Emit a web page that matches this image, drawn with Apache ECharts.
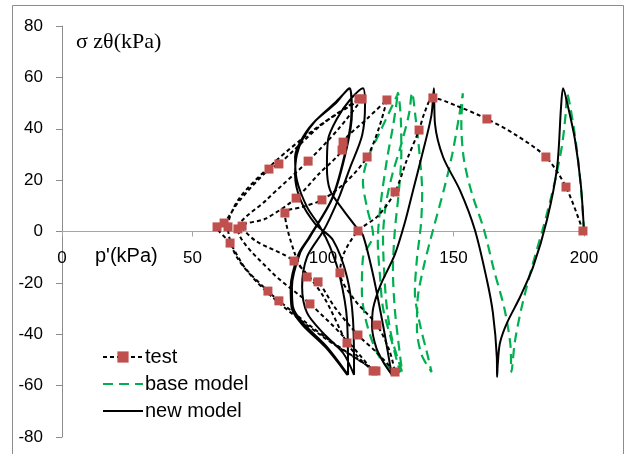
<!DOCTYPE html>
<html>
<head>
<meta charset="utf-8">
<script src="https://cdn.jsdelivr.net/npm/echarts@6/dist/echarts.min.js"></script>
<style>
  html, body { margin: 0; padding: 0; background: #fff; }
  #chart { width: 635px; height: 454px; }
</style>
</head>
<body>
<div id="chart"></div>
<script>
// Axis ticks
const xTicks = [0, 50, 100, 150, 200];
const yTicks = [-80, -60, -40, -20, 0, 20, 40, 60, 80];

// Measured stress path: [p' (kPa), σzθ (kPa), 1 = measured point shown with a marker]
const testPath = [
  [199.6, 0.2, 1], [193.1, 17.3, 1], [185.4, 29.0, 1], [174.0, 37.5, 0], [162.8, 43.8, 1],
  [151.0, 49.0, 0], [142.1, 52.0, 1], [139.0, 46.5, 0], [136.8, 39.5, 1], [132.0, 27.5, 0],
  [127.6, 15.4, 1], [121.0, 6.0, 0], [113.4, 0.2, 1], [108.0, -8.5, 0], [106.5, -16.1, 1],
  [112.0, -26.5, 0], [120.7, -36.4, 1], [125.5, -46.5, 0], [127.6, -54.7, 1],
  [120.5, -47.0, 0], [113.4, -40.3, 1], [104.5, -29.5, 0], [98.1, -19.6, 1], [93.9, -17.7, 1],
  [89.0, -8.0, 0], [85.4, 7.2, 1], [92.0, 9.5, 0], [99.6, 12.3, 1], [109.0, 19.5, 0],
  [116.9, 29.0, 1], [121.5, 40.5, 0], [124.5, 51.2, 1],
  [117.0, 44.0, 0], [107.7, 34.8, 1], [107.3, 31.7, 1], [98.5, 22.5, 0], [89.7, 13.0, 1],
  [78.0, 5.0, 0], [69.0, 2.1, 1], [74.0, -3.5, 0], [88.9, -11.5, 1], [100.0, -25.0, 0],
  [109.2, -43.4, 1], [114.5, -50.0, 0], [119.2, -54.3, 1],
  [107.5, -40.5, 0], [95.0, -28.2, 1], [80.0, -15.5, 0], [67.4, 1.0, 1], [78.0, 12.0, 0],
  [94.3, 27.4, 1], [106.0, 40.0, 0], [115.0, 51.6, 1],
  [100.0, 42.0, 0], [83.1, 26.3, 1], [79.3, 24.3, 1], [68.0, 12.0, 0], [62.1, 3.3, 1],
  [59.4, 1.8, 1], [64.4, -4.5, 1], [70.0, -14.0, 0], [78.9, -23.2, 1], [83.1, -27.0, 1],
  [102.0, -42.0, 0], [120.3, -54.3, 1],
  [100.0, -41.0, 0], [80.0, -25.0, 0], [67.0, -10.0, 0], [63.6, 1.8, 1], [68.0, 13.0, 0],
  [82.0, 27.5, 0], [97.0, 40.0, 0], [113.8, 51.6, 1]
];

// Base model prediction: [p', σzθ]
const basePath = [
  [200.0, 0.0], [199.0, 15.0], [197.5, 30.0], [195.5, 44.0], [193.5, 53.7],
  [193.0, 46.0], [191.5, 33.0], [188.5, 18.0], [184.5, 2.0], [180.0, -14.0], [176.0, -30.0],
  [173.5, -43.0], [172.2, -54.7],
  [171.8, -44.0], [169.5, -30.0], [165.5, -15.0], [161.7, 0.6], [157.0, 15.0], [154.0, 28.0],
  [153.0, 42.0], [153.6, 53.8],
  [152.0, 44.0], [149.5, 30.0], [146.5, 17.0], [142.0, 0.0], [138.5, -14.0], [136.2, -27.0],
  [136.0, -38.0], [137.8, -48.0], [141.6, -54.7],
  [139.8, -47.0], [137.2, -36.4], [135.2, -23.7], [136.0, -10.5], [137.5, 2.5], [138.0, 15.0],
  [137.0, 30.0], [135.5, 44.0], [134.1, 54.0],
  [133.0, 46.0], [130.0, 34.0], [126.5, 22.0], [124.0, 10.0], [123.0, -3.0], [123.5, -17.0],
  [124.5, -30.0], [126.5, -42.0], [130.3, -54.7],
  [129.0, -44.0], [127.5, -30.0], [126.8, -15.0], [127.5, 0.0], [129.0, 15.0], [130.0, 30.0],
  [129.8, 44.0], [128.7, 54.0],
  [128.4, 53.0], [121.8, 38.7], [117.2, 28.6], [115.3, 19.3], [116.9, 9.1], [119.2, -1.4],
  [115.3, -10.3], [114.9, -23.5], [116.9, -36.4], [121.8, -49.2], [128.4, -54.7],
  [129.5, -54.7], [126.4, -43.0], [123.0, -29.8], [121.8, -16.9], [121.0, -4.0], [122.0, 10.0],
  [124.5, 28.0], [127.0, 42.0], [128.7, 54.0]
];

// New model prediction: [p', σzθ]
const newPath = [
  [200.0, 0.0], [198.8, 18.0], [196.5, 36.0], [193.8, 49.0], [192.0, 55.8],
  [191.2, 48.4], [189.7, 25.0], [185.8, 4.5], [180.5, -13.8], [175.5, -25.5], [170.5, -35.6],
  [167.8, -43.4], [167.0, -51.0], [166.7, -56.6],
  [166.6, -49.0], [165.1, -31.7], [162.8, -18.9], [158.2, 0.6], [152.5, 16.0], [146.0, 29.0],
  [142.9, 42.0], [142.5, 55.8],
  [141.5, 45.0], [138.0, 30.0], [134.5, 16.0], [131.5, 4.0], [127.5, -9.0], [122.0, -21.0],
  [119.2, -30.0], [118.8, -37.0], [120.5, -45.5], [123.5, -51.5], [126.4, -55.8],
  [125.7, -52.0], [123.0, -36.4], [119.2, -16.9], [115.3, -1.4], [113.0, 1.4], [107.7, 8.4],
  [102.7, 16.1], [101.5, 25.0], [101.9, 35.6], [105.4, 44.0], [110.3, 51.2], [115.3, 55.8],
  [116.1, 49.2], [115.0, 37.5], [110.3, 24.7], [106.5, 14.2], [102.7, 5.3], [100.0, 0.0],
  [93.9, -9.9], [92.0, -21.6], [93.9, -31.7], [100.0, -39.5], [107.7, -47.3], [111.9, -55.8],
  [111.5, -34.4], [109.2, -17.7], [103.8, -3.3], [97.0, 3.0], [91.5, 12.0], [89.3, 22.0],
  [90.0, 30.0], [92.5, 36.5], [97.0, 43.0], [105.0, 50.5], [110.3, 55.8],
  [111.1, 46.1], [109.2, 32.9], [103.8, 13.4], [95.0, -2.1], [91.2, -8.4], [88.1, -21.6],
  [88.5, -29.4], [92.3, -35.6], [101.5, -44.9], [109.6, -55.8],
  [109.2, -34.4], [106.5, -17.7], [102.7, -6.0], [98.9, 1.8], [93.9, 9.5], [90.0, 20.0],
  [89.3, 29.0], [91.2, 34.8], [96.2, 42.2], [105.0, 50.0], [110.0, 55.8],
  [110.9, 46.5], [109.0, 33.0], [103.5, 13.0], [94.5, -2.5], [90.6, -8.8], [87.6, -21.8],
  [88.0, -29.8], [92.0, -36.2], [101.2, -45.3], [109.3, -55.8]
];

const GRID = { left: 62, right: 51, top: 26, bottom: 17 };
const H = 454;
const plotH = H - GRID.top - GRID.bottom;
// the horizontal axis sits at σzθ = 0, not at the bottom of the plot
const zeroOffset = -plotH * (0 - yTicks[0]) / (yTicks[yTicks.length - 1] - yTicks[0]);

const chart = echarts.init(document.getElementById('chart'), null, { renderer: 'canvas' });

const testData = testPath.map(d => ({
  value: [d[0], d[1]],
  symbol: d[2] ? 'rect' : 'none',
  symbolSize: d[2] ? 9 : 0
}));

const labelFont = { fontFamily: 'Liberation Sans, Arial, sans-serif', fontSize: 17, color: '#000' };

chart.setOption({
  animation: false,
  backgroundColor: '#fff',
  grid: Object.assign({ containLabel: false }, GRID),
  xAxis: {
    type: 'value', position: 'bottom', offset: zeroOffset,
    min: xTicks[0], max: xTicks[xTicks.length - 1], interval: 50,
    axisLine: { onZero: false, lineStyle: { color: '#a6a6a6', width: 1 } },
    axisTick: { show: true, inside: false, length: 5, lineStyle: { color: '#a6a6a6' } },
    axisLabel: Object.assign({ margin: 18 }, labelFont),
    splitLine: { show: false }
  },
  yAxis: {
    type: 'value', min: yTicks[0], max: yTicks[yTicks.length - 1], interval: 20,
    axisLine: { show: true, onZero: false, lineStyle: { color: '#8c8c8c', width: 1 } },
    axisTick: { show: true, inside: false, length: 6, lineStyle: { color: '#8c8c8c' } },
    axisLabel: Object.assign({ margin: 19 }, labelFont),
    splitLine: { show: false }
  },
  legend: {
    orient: 'vertical', left: 102, top: 347, padding: 0,
    itemWidth: 40, itemHeight: 14, itemGap: 7,
    textStyle: { fontFamily: 'Liberation Sans, Arial, sans-serif', fontSize: 20, color: '#000', padding: [0, 0, 0, -3] },
    data: [
      { name: 'test' },
      { name: 'base model', itemStyle: { opacity: 0 } },
      { name: 'new model', itemStyle: { opacity: 0 } }
    ]
  },
  graphic: [
    { type: 'rect', shape: { x: 12.5, y: 5.5, width: 611, height: 470 },
      style: { fill: 'none', stroke: '#8c8c8c', lineWidth: 1 }, silent: true, z: 100 },
    { type: 'text', left: 76, top: 31,
      style: { text: 'σ zθ(kPa)', font: '22px "Liberation Serif", "Times New Roman", serif', fill: '#000' } },
    { type: 'text', left: 95, top: 246,
      style: { text: "p'(kPa)", font: '20px "Liberation Sans", Arial, sans-serif', fill: '#000' } }
  ],
  series: [
    {
      name: 'test', type: 'line', data: testData, smooth: 0.3,
      symbol: 'rect', symbolSize: 9, showSymbol: true,
      lineStyle: { color: '#000', width: 2, type: [4, 3] },
      itemStyle: { color: '#C0504D', borderWidth: 0 },
      z: 4
    },
    {
      name: 'base model', type: 'line', data: basePath, smooth: 0.3,
      symbol: 'none', showSymbol: false,
      lineStyle: { color: '#00B050', width: 2.2, type: [10, 6] },
      itemStyle: { color: '#00B050' },
      z: 2
    },
    {
      name: 'new model', type: 'line', data: newPath, smooth: 0.3,
      symbol: 'none', showSymbol: false,
      lineStyle: { color: '#000', width: 2 },
      itemStyle: { color: '#000' },
      z: 3
    }
  ]
});
</script>
</body>
</html>
